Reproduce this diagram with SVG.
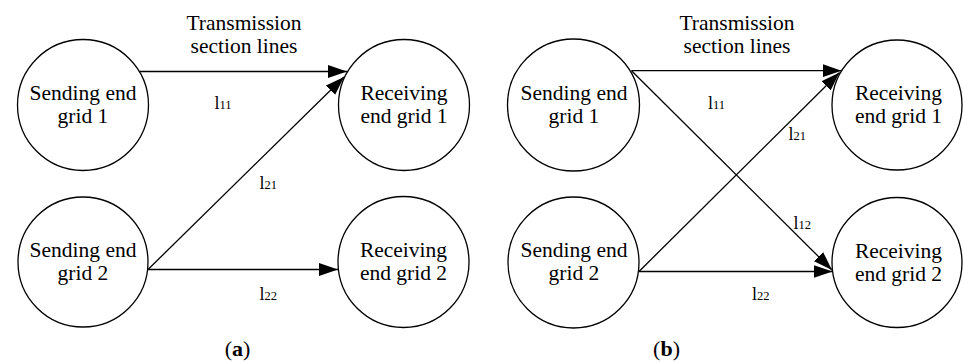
<svg xmlns="http://www.w3.org/2000/svg" width="963" height="363" viewBox="0 0 963 363" font-family="'Liberation Serif', 'Times New Roman', serif">
  <style>
    .node { fill: #ffffff; stroke: #000000; stroke-width: 1.3; }
    .edge { fill: none; stroke: #000000; stroke-width: 1.3; marker-end: url(#arrow); }
    text { font-family: 'Liberation Serif', 'Times New Roman', serif; fill: #000000; }
    .lbl { font-size: 21.5px; text-anchor: middle; }
    .line-id { font-size: 18px; }
    .sub { font-size: 12.5px; }
    .cap { font-size: 22px; text-anchor: middle; }
    .bold { font-weight: bold; }
  </style>
  <defs>
    <marker id="arrow" markerUnits="userSpaceOnUse" markerWidth="20" markerHeight="14" refX="19" refY="6.5" orient="auto">
      <path d="M0,0 L19,6.5 L0,13 z" fill="#000000"/>
    </marker>
  </defs>
  <rect width="963" height="363" fill="#ffffff"/>

  <!-- panel (a) -->
  <g id="a-connectors">
    <line class="edge" x1="140" y1="71.5" x2="347" y2="71.5"/>
    <line class="edge" x1="148" y1="269.5" x2="344" y2="77"/>
    <line class="edge" x1="148" y1="269.5" x2="338" y2="269.5"/>
  </g>
  <g id="a-send1">
    <circle class="node" cx="83" cy="105" r="65.5"/>
    <text class="lbl" x="83" y="99.5">Sending end</text>
    <text class="lbl" x="83" y="122.5">grid 1</text>
  </g>
  <g id="a-send2">
    <circle class="node" cx="83" cy="262" r="65"/>
    <text class="lbl" x="83" y="256.5">Sending end</text>
    <text class="lbl" x="83" y="279.5">grid 2</text>
  </g>
  <g id="a-recv1">
    <circle class="node" cx="404" cy="105" r="65.5"/>
    <text class="lbl" x="404" y="99.5">Receiving</text>
    <text class="lbl" x="404" y="122.5">end grid 1</text>
  </g>
  <g id="a-recv2">
    <circle class="node" cx="403.5" cy="262" r="65.5"/>
    <text class="lbl" x="403.5" y="256.5">Receiving</text>
    <text class="lbl" x="403.5" y="279.5">end grid 2</text>
  </g>
  <g id="a-labels">
    <text class="lbl" x="244" y="30">Transmission</text>
    <text class="lbl" x="244" y="53">section lines</text>
    <text class="line-id" x="214.5" y="109">l<tspan class="sub">11</tspan></text>
    <text class="line-id" x="259.5" y="188.5">l<tspan class="sub">21</tspan></text>
    <text class="line-id" x="259.5" y="300">l<tspan class="sub">22</tspan></text>
    <text class="cap" x="237.5" y="356">(<tspan class="bold">a</tspan>)</text>
  </g>

  <!-- panel (b) -->
  <g id="b-connectors">
    <line class="edge" x1="631.5" y1="70.7" x2="841.5" y2="70.7"/>
    <line class="edge" x1="631.5" y1="70.7" x2="832" y2="270"/>
    <line class="edge" x1="639" y1="271.5" x2="839.5" y2="72.5"/>
    <line class="edge" x1="639" y1="271.5" x2="832.5" y2="271.5"/>
  </g>
  <g id="b-send1">
    <circle class="node" cx="573.5" cy="105" r="66"/>
    <text class="lbl" x="574" y="99.5">Sending end</text>
    <text class="lbl" x="574" y="122.5">grid 1</text>
  </g>
  <g id="b-send2">
    <circle class="node" cx="573.5" cy="262.5" r="65.5"/>
    <text class="lbl" x="574" y="257">Sending end</text>
    <text class="lbl" x="574" y="280">grid 2</text>
  </g>
  <g id="b-recv1">
    <circle class="node" cx="897" cy="105" r="65"/>
    <text class="lbl" x="898.5" y="99.5">Receiving</text>
    <text class="lbl" x="898.5" y="122.5">end grid 1</text>
  </g>
  <g id="b-recv2">
    <circle class="node" cx="897" cy="262.5" r="65"/>
    <text class="lbl" x="898.5" y="257.5">Receiving</text>
    <text class="lbl" x="898.5" y="280.5">end grid 2</text>
  </g>
  <g id="b-labels">
    <text class="lbl" x="737" y="29.5">Transmission</text>
    <text class="lbl" x="737" y="52.5">section lines</text>
    <text class="line-id" x="708" y="108.5">l<tspan class="sub">11</tspan></text>
    <text class="line-id" x="788.5" y="139.5">l<tspan class="sub">21</tspan></text>
    <text class="line-id" x="793.5" y="228.5">l<tspan class="sub">12</tspan></text>
    <text class="line-id" x="752" y="300">l<tspan class="sub">22</tspan></text>
    <text class="cap" x="666.5" y="356">(<tspan class="bold">b</tspan>)</text>
  </g>
</svg>
